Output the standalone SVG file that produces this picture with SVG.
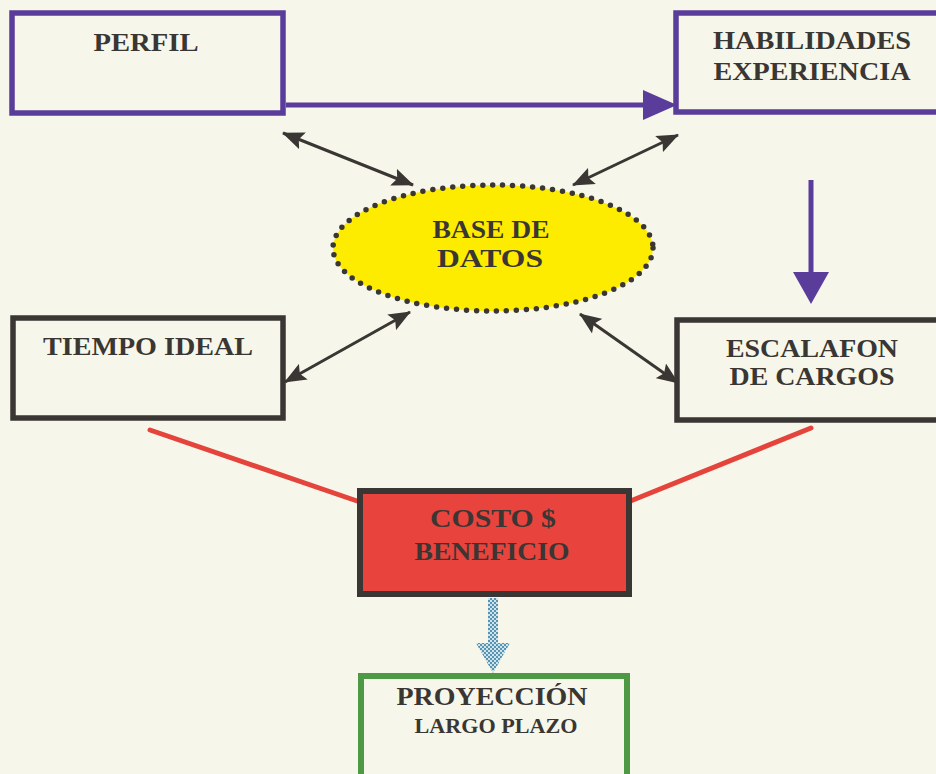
<svg xmlns="http://www.w3.org/2000/svg" width="936" height="774" viewBox="0 0 936 774">
<defs>
<style>
.lbl{font-family:"Liberation Serif","Times New Roman",serif;font-weight:bold;font-size:26px;fill:#3a3633;text-anchor:middle}
.sm{font-size:20px}
.pbox{fill:none;stroke:#5a3d9a;stroke-width:5.5}
.kbox{fill:none;stroke:#3a3633;stroke-width:5.5}
.dbl{stroke:#3a3633;stroke-width:3;fill:none;marker-start:url(#ah);marker-end:url(#ah)}
.red{stroke:#e5443c;stroke-width:5;stroke-linecap:round;fill:none}
</style>
<marker id="ah" viewBox="0 0 22 18" refX="21" refY="9" markerWidth="22" markerHeight="18" markerUnits="userSpaceOnUse" orient="auto-start-reverse">
<path d="M0,0 L22,9 L0,18 L4,9 z" fill="#3a3633"/>
</marker>
<pattern id="chk" width="4" height="4" patternUnits="userSpaceOnUse">
<rect width="4" height="4" fill="#cfe3ea"/>
<rect width="2" height="2" fill="#5894b2"/>
<rect x="2" y="2" width="2" height="2" fill="#5894b2"/>
</pattern>
</defs>
<rect width="936" height="774" fill="#f6f7ea"/>

<g id="connectors">
<line x1="286" y1="105" x2="645" y2="105" stroke="#5a3d9a" stroke-width="5"/>
<polygon points="643,90 677,105 643,120" fill="#5a3d9a"/>
<line x1="811" y1="180" x2="811" y2="274" stroke="#5a3d9a" stroke-width="5"/>
<polygon points="793,272 829,272 811,304" fill="#5a3d9a"/>
<line class="dbl" x1="283" y1="133" x2="413" y2="185"/>
<line class="dbl" x1="678" y1="135" x2="573" y2="185"/>
<line class="dbl" x1="410" y1="312" x2="285" y2="382"/>
<line class="dbl" x1="580" y1="314" x2="678" y2="383"/>
<line class="red" x1="150" y1="430" x2="360" y2="502"/>
<line class="red" x1="811" y1="428" x2="628" y2="502"/>
<rect x="488" y="598" width="10" height="46" fill="url(#chk)"/>
<polygon points="476,643 510,643 493,673" fill="url(#chk)"/>
</g>

<g id="perfil">
<rect class="pbox" x="12" y="13" width="271" height="100"/>
<text class="lbl" x="146" y="51" textLength="105" lengthAdjust="spacingAndGlyphs">PERFIL</text>
</g>

<g id="habilidades">
<rect class="pbox" x="676" y="13" width="280" height="99"/>
<text class="lbl" x="812" y="49" textLength="198" lengthAdjust="spacingAndGlyphs">HABILIDADES</text>
<text class="lbl" x="812" y="80" textLength="197" lengthAdjust="spacingAndGlyphs">EXPERIENCIA</text>
</g>

<g id="base-datos">
<ellipse cx="493" cy="248" rx="160" ry="63" fill="#fdec00" stroke="#3a3633" stroke-width="5.5" stroke-dasharray="0 10" stroke-linecap="round"/>
<text class="lbl" x="491" y="238" textLength="117" lengthAdjust="spacingAndGlyphs">BASE DE</text>
<text class="lbl" x="490" y="267" textLength="106" lengthAdjust="spacingAndGlyphs">DATOS</text>
</g>

<g id="tiempo-ideal">
<rect class="kbox" x="13" y="318" width="270" height="100"/>
<text class="lbl" x="148" y="355" textLength="210" lengthAdjust="spacingAndGlyphs">TIEMPO IDEAL</text>
</g>

<g id="escalafon">
<rect class="kbox" x="677" y="320" width="280" height="100"/>
<text class="lbl" x="812" y="357" textLength="172" lengthAdjust="spacingAndGlyphs">ESCALAFON</text>
<text class="lbl" x="812" y="385" textLength="165" lengthAdjust="spacingAndGlyphs">DE CARGOS</text>
</g>

<g id="costo-beneficio">
<rect x="360" y="491" width="269" height="103" fill="#e8433d" stroke="#3a3633" stroke-width="6"/>
<text class="lbl" x="493" y="527" textLength="126" lengthAdjust="spacingAndGlyphs">COSTO $</text>
<text class="lbl" x="492" y="560" textLength="155" lengthAdjust="spacingAndGlyphs">BENEFICIO</text>
</g>

<g id="proyeccion">
<rect x="361" y="676" width="266" height="110" fill="none" stroke="#4e9a44" stroke-width="6"/>
<text class="lbl" x="492" y="705" textLength="191" lengthAdjust="spacingAndGlyphs">PROYECCIÓN</text>
<text class="lbl sm" x="496" y="733" textLength="163" lengthAdjust="spacingAndGlyphs">LARGO PLAZO</text>
</g>
</svg>
